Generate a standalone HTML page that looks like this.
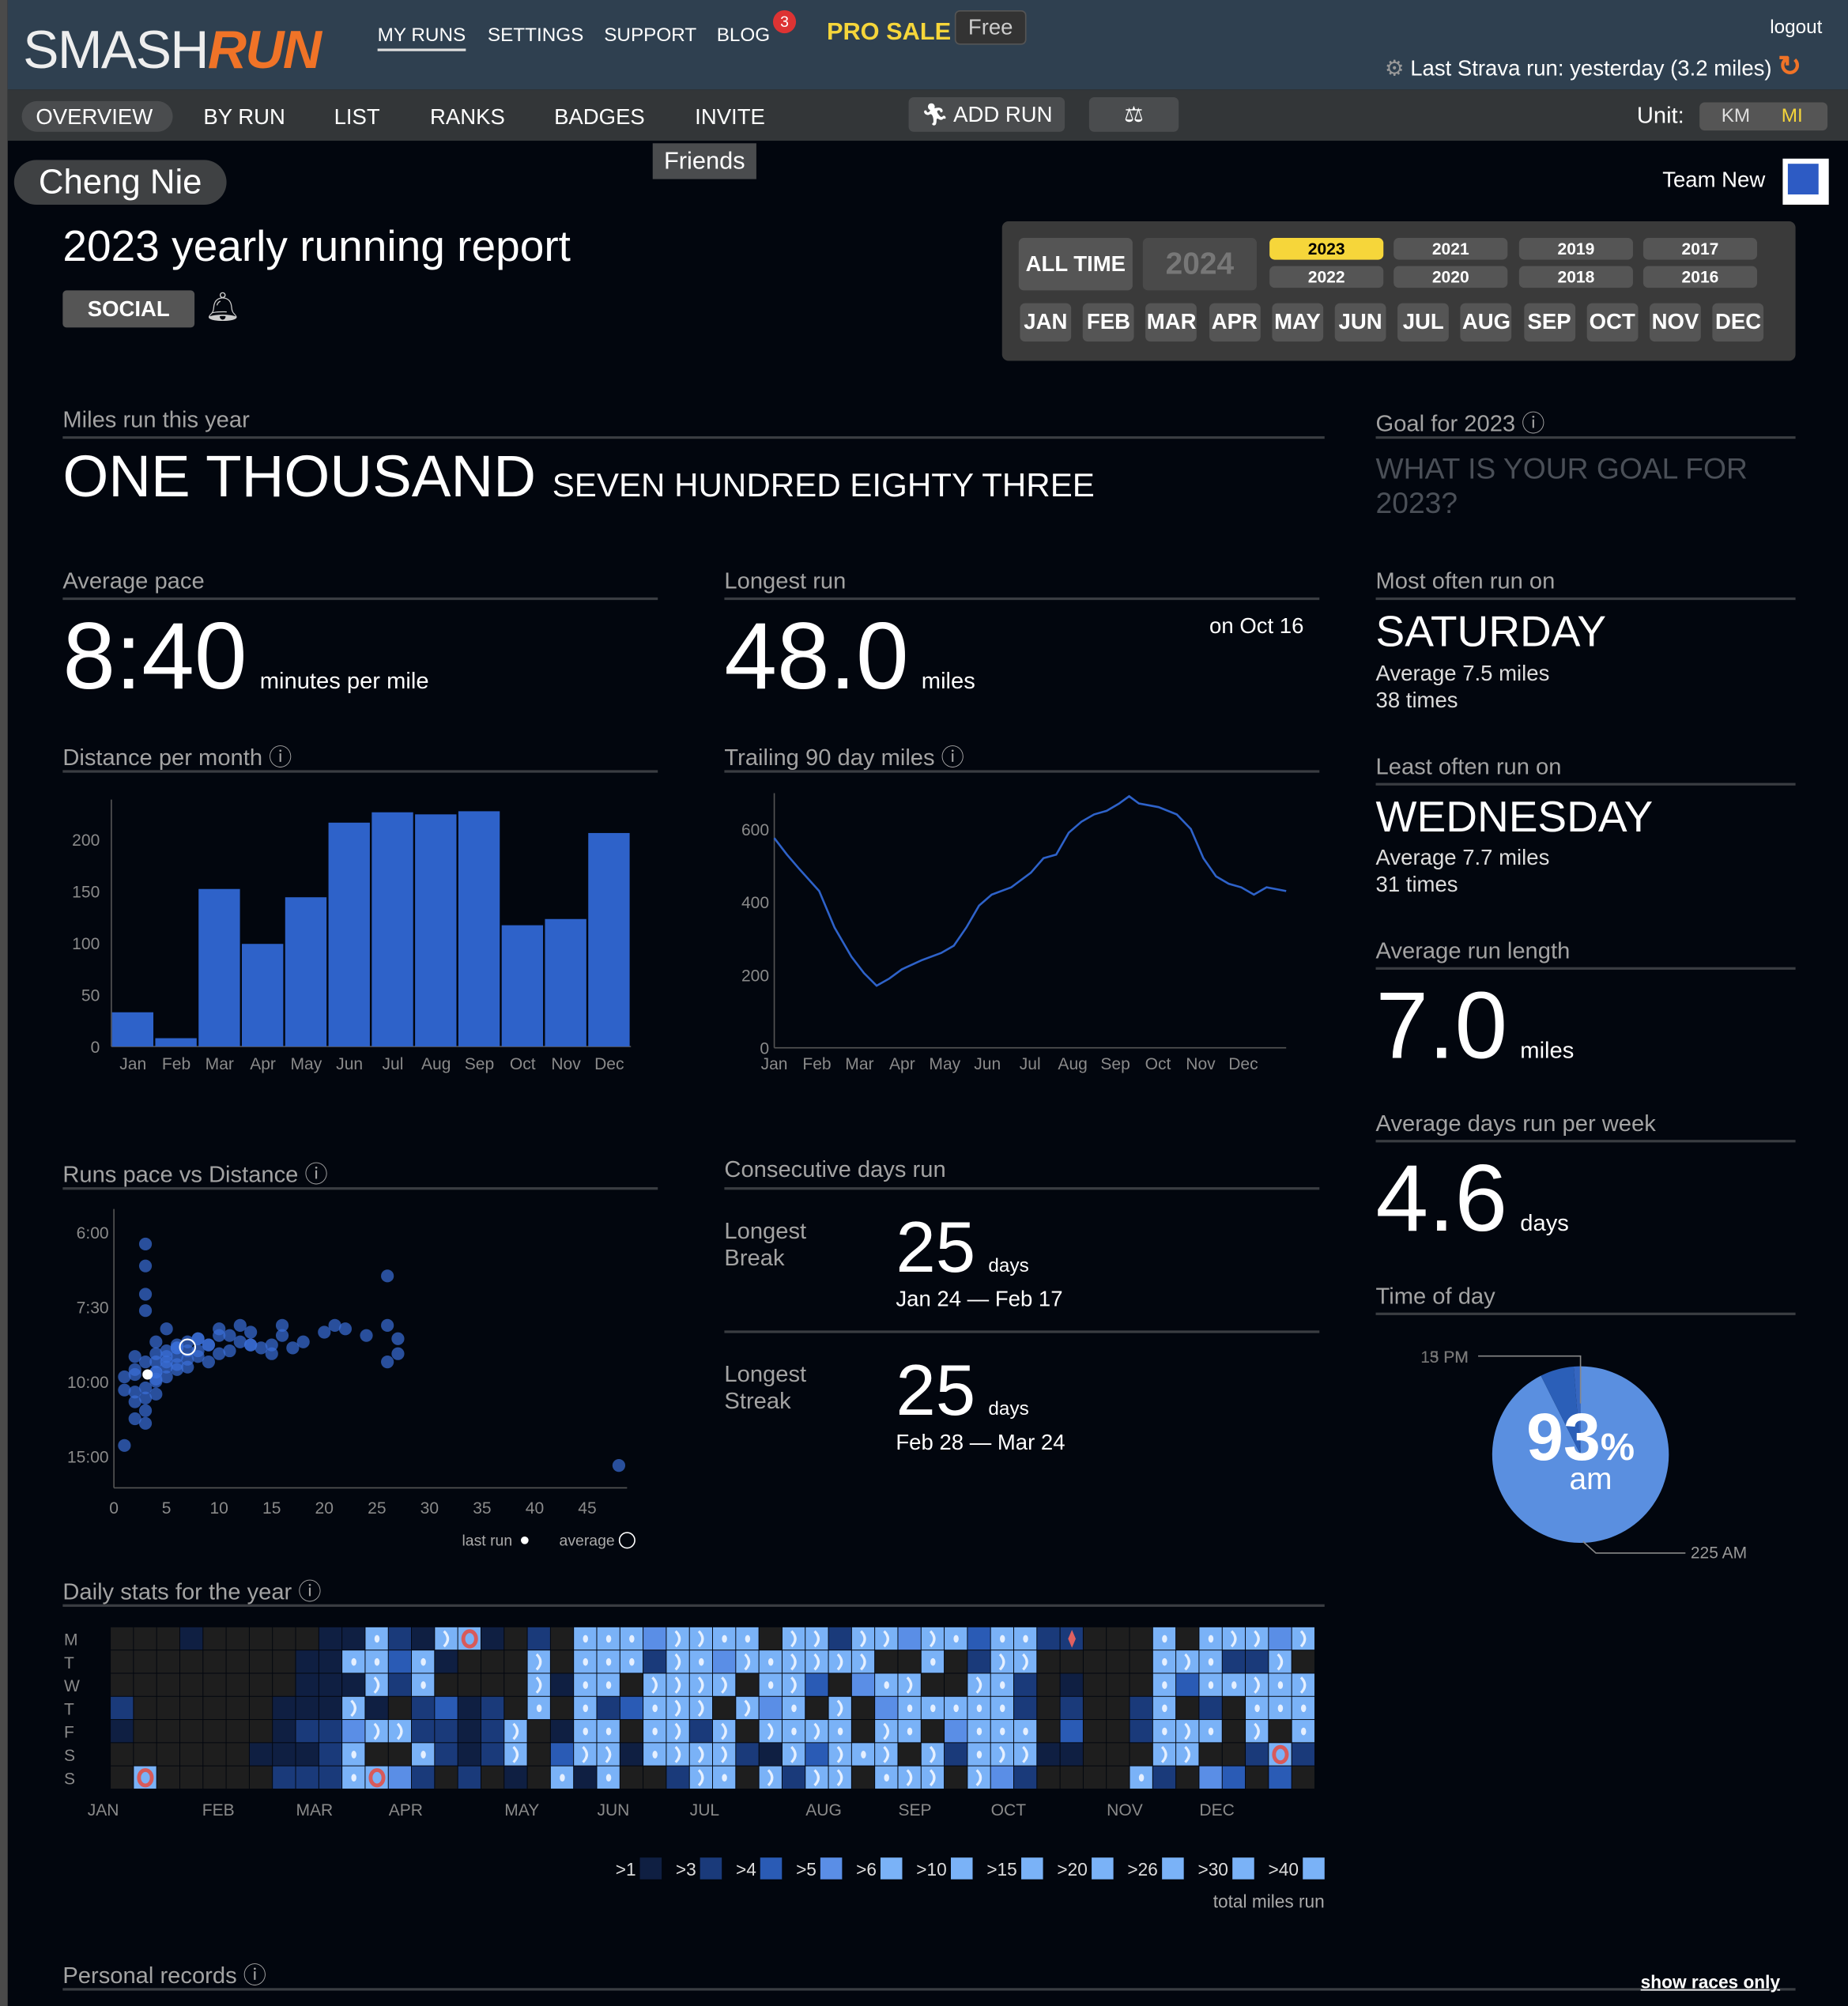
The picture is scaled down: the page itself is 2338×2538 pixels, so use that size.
<!DOCTYPE html>
<html><head><meta charset="utf-8"><style>
html,body{margin:0;padding:0;background:#02060e;width:2338px;height:2538px;overflow:hidden}
#wrap{position:absolute;left:0;top:0;width:1444px;height:1568px;transform:scale(1.6191,1.6186);transform-origin:0 0;font-family:"Liberation Sans",sans-serif;color:#fff;background:#02060e}
.a{position:absolute;white-space:nowrap}
.t{color:#a3a3a3;font-size:18px}
.hr{position:absolute;height:2px;background:#3a3d42}
.nav{font-size:15px;color:#fff}
.nav2{font-size:18px;color:#fff}
.yb{position:absolute;height:17px;border-radius:4px;background:#555;color:#fff;font-size:13px;font-weight:bold;text-align:center;line-height:17px}
.mb{position:absolute;top:237px;height:30px;border-radius:4px;background:#555;color:#fff;font-size:17px;font-weight:bold;text-align:center;line-height:30px}
svg text{font-family:"Liberation Sans",sans-serif}
</style></head><body>
<div id="wrap">
<div class="a" style="left:0;top:0;width:6px;height:1568px;background:#4a4a4a"></div>
<div class="a" style="left:6px;top:0;width:1438px;height:70px;background:#2f4050"></div>
<div class="a" style="left:18px;top:15px;font-size:42px;letter-spacing:-1px;color:#eee">SMASH<b style="color:#f07327;font-style:italic">RUN</b></div>
<div class="a nav" style="left:295px;top:19px;border-bottom:2px solid #ddd;padding-bottom:2px">MY RUNS</div>
<div class="a nav" style="left:381px;top:19px">SETTINGS</div>
<div class="a nav" style="left:472px;top:19px">SUPPORT</div>
<div class="a nav" style="left:560px;top:19px">BLOG</div>
<div class="a" style="left:604px;top:8px;width:18px;height:18px;border-radius:9px;background:#d33;font-size:12px;text-align:center;line-height:18px">3</div>
<div class="a" style="left:646px;top:15px;font-size:19px;font-weight:bold;color:#f6d63a">PRO SALE</div>
<div class="a" style="left:746px;top:8px;width:54px;height:25px;border-radius:4px;background:#333;border:1px solid #555;color:#ccc;font-size:17px;text-align:center;line-height:25px">Free</div>
<div class="a" style="left:1383px;top:13px;font-size:15px">logout</div>
<div class="a" style="left:1082px;top:39px;font-size:17px"><span style="color:#999">⚙</span> Last Strava run: yesterday (3.2 miles) <b style="color:#f07327;font-size:22px">↻</b></div>
<div class="a" style="left:6px;top:70px;width:1438px;height:40px;background:#333638"></div>
<div class="a" style="left:17px;top:79px;width:118px;height:24px;border-radius:12px;background:#4a4c4e"></div>
<div class="a nav2" style="left:28px;top:82px;font-size:17px">OVERVIEW</div>
<div class="a nav2" style="left:159px;top:82px;font-size:17px">BY RUN</div>
<div class="a nav2" style="left:261px;top:82px;font-size:17px">LIST</div>
<div class="a nav2" style="left:336px;top:82px;font-size:17px">RANKS</div>
<div class="a nav2" style="left:433px;top:82px;font-size:17px">BADGES</div>
<div class="a nav2" style="left:543px;top:82px;font-size:17px">INVITE</div>
<div class="a" style="left:710px;top:76px;width:122px;height:27px;border-radius:4px;background:#4a4c4e;font-size:17px;line-height:27px;text-align:center">🏃︎ ADD RUN</div>
<div class="a" style="left:851px;top:76px;width:70px;height:27px;border-radius:4px;background:#4a4c4e;font-size:17px;line-height:27px;text-align:center">⚖</div>
<div class="a" style="left:1279px;top:80px;font-size:18px">Unit:</div>
<div class="a" style="left:1328px;top:80px;width:100px;height:22px;border-radius:4px;background:#555"></div>
<div class="a" style="left:1345px;top:82px;font-size:15px;color:#ddd">KM</div>
<div class="a" style="left:1392px;top:82px;font-size:15px;color:#f6d63a">MI</div>
<div class="a" style="left:510px;top:112px;width:81px;height:28px;background:#4a4c4e;font-size:19px;text-align:center;line-height:30px">Friends</div>
<div class="a" style="left:11px;top:125px;width:166px;height:35px;border-radius:18px;background:#3f4143;font-size:27px;text-align:center;line-height:35px">Cheng Nie</div>
<div class="a" style="left:1299px;top:131px;font-size:17px">Team New</div>
<div class="a" style="left:1393px;top:124px;width:36px;height:36px;background:#fff"><div style="margin:4px;width:24px;height:24px;background:#2d5bc4"></div></div>
<div class="a" style="left:49px;top:174px;font-size:34px">2023 yearly running report</div>
<div class="a" style="left:49px;top:227px;width:103px;height:29px;border-radius:3px;background:#555;font-size:17px;font-weight:bold;text-align:center;line-height:29px">SOCIAL</div>
<div class="a" style="left:160px;top:227px;font-size:22px;color:#ccc">🔔︎</div>

<div class="a" style="left:783px;top:173px;width:620px;height:109px;border-radius:5px;background:#3a3a3a"></div>
<div class="a" style="left:796px;top:186px;width:89px;height:41px;border-radius:4px;background:#555;font-size:17px;font-weight:bold;text-align:center;line-height:41px">ALL TIME</div>
<div class="a" style="left:893px;top:186px;width:89px;height:41px;border-radius:4px;background:#4a4a4a;color:#777;font-size:24px;font-weight:bold;text-align:center;line-height:41px">2024</div>
<div class="yb" style="left:992px;top:186px;width:89px;background:#f6d63a;color:#000">2023</div>
<div class="yb" style="left:992px;top:208px;width:89px">2022</div>
<div class="yb" style="left:1089px;top:186px;width:89px">2021</div>
<div class="yb" style="left:1089px;top:208px;width:89px">2020</div>
<div class="yb" style="left:1187px;top:186px;width:89px">2019</div>
<div class="yb" style="left:1187px;top:208px;width:89px">2018</div>
<div class="yb" style="left:1284px;top:186px;width:89px">2017</div>
<div class="yb" style="left:1284px;top:208px;width:89px">2016</div>
<div id="months"></div>

<div class="a t" style="left:49px;top:318px">Miles run this year</div>
<div class="hr" style="left:49px;top:341px;width:986px"></div>
<div class="a" style="left:49px;top:345px;font-size:46px">ONE THOUSAND <span style="font-size:26px">SEVEN HUNDRED EIGHTY THREE</span></div>
<div class="a t" style="left:1075px;top:317px">Goal for 2023 ⓘ</div>
<div class="hr" style="left:1075px;top:341px;width:328px"></div>
<div class="a" style="left:1075px;top:353px;font-size:23px;color:#4a4f57;line-height:27px">WHAT IS YOUR GOAL FOR<br>2023?</div>

<div class="a t" style="left:49px;top:444px">Average pace</div>
<div class="hr" style="left:49px;top:467px;width:465px"></div>
<div class="a" style="left:49px;top:470px;font-size:74px">8:40<span style="font-size:18px;margin-left:10px">minutes per mile</span></div>
<div class="a t" style="left:566px;top:444px">Longest run</div>
<div class="hr" style="left:566px;top:467px;width:465px"></div>
<div class="a" style="left:566px;top:470px;font-size:74px">48.0<span style="font-size:18px;margin-left:10px">miles</span></div>
<div class="a" style="left:945px;top:480px;font-size:17px">on Oct 16</div>

<div class="a t" style="left:1075px;top:444px">Most often run on</div>
<div class="hr" style="left:1075px;top:467px;width:328px"></div>
<div class="a" style="left:1075px;top:475px;font-size:34px">SATURDAY</div>
<div class="a" style="left:1075px;top:516px;font-size:17px;line-height:21px;color:#ddd">Average 7.5 miles<br>38 times</div>
<div class="a t" style="left:1075px;top:589px">Least often run on</div>
<div class="hr" style="left:1075px;top:612px;width:328px"></div>
<div class="a" style="left:1075px;top:620px;font-size:34px">WEDNESDAY</div>
<div class="a" style="left:1075px;top:660px;font-size:17px;line-height:21px;color:#ddd">Average 7.7 miles<br>31 times</div>
<div class="a t" style="left:1075px;top:733px">Average run length</div>
<div class="hr" style="left:1075px;top:756px;width:328px"></div>
<div class="a" style="left:1075px;top:759px;font-size:74px">7.0<span style="font-size:18px;margin-left:10px">miles</span></div>
<div class="a t" style="left:1075px;top:868px">Average days run per week</div>
<div class="hr" style="left:1075px;top:891px;width:328px"></div>
<div class="a" style="left:1075px;top:894px;font-size:74px">4.6<span style="font-size:18px;margin-left:10px">days</span></div>
<div class="a t" style="left:1075px;top:1003px">Time of day</div>
<div class="hr" style="left:1075px;top:1026px;width:328px"></div>

<div class="a t" style="left:49px;top:578px">Distance per month ⓘ</div>
<div class="hr" style="left:49px;top:602px;width:465px"></div>
<div class="a t" style="left:566px;top:578px">Trailing 90 day miles ⓘ</div>
<div class="hr" style="left:566px;top:602px;width:465px"></div>
<div class="a t" style="left:49px;top:904px">Runs pace vs Distance ⓘ</div>
<div class="hr" style="left:49px;top:928px;width:465px"></div>
<div class="a t" style="left:566px;top:904px">Consecutive days run</div>
<div class="hr" style="left:566px;top:928px;width:465px"></div>
<div class="a t" style="left:566px;top:952px;line-height:21px">Longest<br>Break</div>
<div class="a" style="left:700px;top:942px;font-size:56px">25<span style="font-size:15px;margin-left:10px">days</span></div>
<div class="a" style="left:700px;top:1006px;font-size:17px">Jan 24 — Feb 17</div>
<div class="hr" style="left:566px;top:1040px;width:465px"></div>
<div class="a t" style="left:566px;top:1064px;line-height:21px">Longest<br>Streak</div>
<div class="a" style="left:700px;top:1054px;font-size:56px">25<span style="font-size:15px;margin-left:10px">days</span></div>
<div class="a" style="left:700px;top:1118px;font-size:17px">Feb 28 — Mar 24</div>
<div class="a t" style="left:49px;top:1230px">Daily stats for the year ⓘ</div>
<div class="hr" style="left:49px;top:1254px;width:986px"></div>
<div class="a t" style="left:49px;top:1530px">Personal records ⓘ</div>
<div class="hr" style="left:49px;top:1554px;width:1354px"></div>
<div class="a" style="left:1282px;top:1541px;font-size:14px;font-weight:bold;text-decoration:underline">show races only</div>

<svg class="a" style="left:0;top:0" width="1444" height="1568" id="charts"></svg>
</div>
<script>
// ---- data ----
const monthsShort=["Jan","Feb","Mar","Apr","May","Jun","Jul","Aug","Sep","Oct","Nov","Dec"];
const monthlyMiles=[33,8,152,99,144,216,226,224,227,117,123,206];
const barTicks=[0,50,100,150,200];
const trailDays=[0,9,18,32,43,55,64,73,82,91,105,119,128,137,146,155,169,183,192,201,210,219,228,237,246,253,260,274,287,297,306,315,324,333,342,351,365];
const trailMiles=[575,530,490,430,330,250,205,170,190,215,240,260,280,330,390,420,440,480,520,530,590,620,640,650,670,690,670,660,640,600,520,470,450,440,420,440,430];
const trailTicks=[0,200,400,600];
const scatterDist=[3,3,2,4,5,6,7,8,9,10,11,12,3,4,5,6,7,8,4,5,6,3,2,2,4,6,8,10,12,13,14,15,16,17,18,20,21,22,4,5,7,9,13,16,24,26,27,26,27,26,3,2,1,1,3,4,6,5,2,3,4,8,9,10,3,4,5,6,7,1,2,3,15,13,11,48];
const scatterPace=[6.2,6.6,9.7,9.2,8.8,8.6,8.5,8.4,8.6,8.1,8.3,8.0,10.3,9.9,9.4,9.0,8.8,8.4,8.9,9.0,8.7,7.6,9.5,10.5,10.0,9.3,9.0,8.9,8.5,8.2,8.7,8.6,8.3,8.7,8.5,8.2,8.0,8.1,9.6,9.8,9.4,9.2,8.6,8.0,8.3,8.0,8.4,6.8,8.9,9.2,10.8,11.0,10.4,9.8,11.5,10.6,9.5,9.2,9.0,9.2,9.6,8.8,8.6,8.3,7.2,8.5,8.1,8.7,9.1,14.0,12.0,12.3,8.9,8.6,8.8,16.0];
const scatterXTicks=[0,5,10,15,20,25,30,35,40,45];
const scatterYTicks=["6:00","7:30","10:00","15:00"];
const scatterYTickPace=[6,7.5,10,15];
const lastRun=[3.2,9.7];
const avgRun=[7.0,8.67];
const heatRows=["0001000001"+"15216R1020"+"5554665506"+"6266465355"+"2D00050566"+"46",
"0000000011"+"5535100060"+"5552654656"+"6660050266"+"0000056522"+"60",
"0000000011"+"1625000061"+"5506666056"+"3045600652"+"0100053556"+"56",
"2000000111"+"6102312050"+"5235660645"+"0604555552"+"0200250205"+"55",
"1000000122"+"4662212601"+"5505626065"+"6506504555"+"0300256506"+"05",
"0000001112"+"5005212603"+"6615666216"+"3656062566"+"1100066002"+"R2",
"0R00000222"+"5R42020105"+"1500265062"+"6605660642"+"0000520430"+"30"];
const dayLabels=["M","T","W","T","F","S","S"];
const heatMonths=["JAN","FEB","MAR","APR","MAY","JUN","JUL","AUG","SEP","OCT","NOV","DEC"];
const heatMonthWeek=[-1,3.95,8,12,17,21,25,30,34,38,43,47];
const legendLabels=[">1",">3",">4",">5",">6",">10",">15",">20",">26",">30",">40"];
const pieValues=[225,15,3];
const pieLabels=["225 AM","15 PM","3 PM"];
const monthBtns=["JAN","FEB","MAR","APR","MAY","JUN","JUL","AUG","SEP","OCT","NOV","DEC"];

const NS="http://www.w3.org/2000/svg";
const svg=document.getElementById('charts');
function el(tag,attrs,parent,txt){const e=document.createElementNS(NS,tag);for(const k in attrs)e.setAttribute(k,attrs[k]);if(txt!==undefined)e.textContent=txt;(parent||svg).appendChild(e);return e;}

// month buttons
const mwrap=document.getElementById('months');
monthBtns.forEach((m,i)=>{const d=document.createElement('div');d.className='mb';d.style.left=(797+i*49.2)+'px';d.style.width='40px';d.textContent=m;


mwrap.appendChild(d);});

// ---- bar chart ----
(function(){
const g=el('g',{});


const x0=87,x1=493,y0=818,k=0.81;const bw=(x1-x0)/12;
const y=v=>y0-v*k;
el('line',{x1:x0,y1:625,x2:x0,y2:y0,stroke:'#555'},g);
el('line',{x1:x0,y1:y0,x2:x1,y2:y0,stroke:'#555'},g);
barTicks.forEach(t=>{const tx=el('text',{x:x0-9,y:y(t)+5,'text-anchor':'end','font-size':13,fill:'#8a8a8a'},g,t);

});
monthlyMiles.forEach((v,i)=>{const r=el('rect',{x:x0+i*bw+0.5,y:y(v),width:bw-1.5,height:v*k,fill:'#2e62c9'},g);


const tx=el('text',{x:x0+i*bw+bw/2,y:y0+18,'text-anchor':'middle','font-size':13,fill:'#8a8a8a'},g,monthsShort[i]);

});
})();

// ---- trailing line ----
(function(){
const g=el('g',{});


const x0=605,x1=1005,y0=819,k=0.285;
const x=d=>x0+d/365*(x1-x0),y=v=>y0-v*k;
el('line',{x1:x0,y1:620,x2:x0,y2:y0,stroke:'#555'},g);
el('line',{x1:x0,y1:y0,x2:x1,y2:y0,stroke:'#555'},g);
trailTicks.forEach(t=>{const tx=el('text',{x:x0-4,y:y(t)+5,'text-anchor':'end','font-size':13,fill:'#8a8a8a'},g,t);

});
monthsShort.forEach((m,i)=>{const tx=el('text',{x:x(i*30.4),y:y0+17,'text-anchor':'middle','font-size':13,fill:'#8a8a8a'},g,m);

});
const p=el('path',{d:trailDays.map((d,i)=>(i?'L':'M')+x(d).toFixed(1)+' '+y(trailMiles[i]).toFixed(1)).join(''),fill:'none',stroke:'#2e62c9','stroke-width':1.6},g);


})();

// ---- scatter ----
(function(){
const g=el('g',{});


const x0=89,y0=1163,k=8.22;
const x=d=>x0+d*k,y=p=>963+(10-60/p)*29.2;
el('line',{x1:x0,y1:945,x2:x0,y2:y0,stroke:'#555'},g);
el('line',{x1:x0,y1:y0,x2:490,y2:y0,stroke:'#555'},g);
scatterYTicks.forEach((t,i)=>{const tx=el('text',{x:x0-4,y:y(scatterYTickPace[i])+5,'text-anchor':'end','font-size':13,fill:'#8a8a8a'},g,t);

});
scatterXTicks.forEach(t=>{const tx=el('text',{x:x(t),y:y0+20,'text-anchor':'middle','font-size':13,fill:'#8a8a8a'},g,t);

});
scatterDist.forEach((d,i)=>{const c=el('circle',{cx:x(d),cy:y(scatterPace[i]),r:5,fill:'#3a6fd8','fill-opacity':0.7},g);

});
const lr=el('circle',{cx:x(lastRun[0]),cy:y(lastRun[1]),r:4,fill:'#fff'},g);


const av=el('circle',{cx:x(avgRun[0]),cy:y(avgRun[1]),r:6,fill:'none',stroke:'#fff','stroke-width':1.3},g);


const t1=el('text',{x:361,y:1208,'font-size':12,fill:'#aaa'},g,'last run');


el('circle',{cx:410,cy:1204,r:3,fill:'#fff'},g);
const t2=el('text',{x:437,y:1208,'font-size':12,fill:'#aaa'},g,'average');


el('circle',{cx:490,cy:1204,r:6,fill:'none',stroke:'#fff'},g);
})();

// ---- heatmap ----
(function(){
const g=el('g',{});


const x0=86.5,y0=1272,cw=18.1,ch=18.1;
const col={'0':'#1e1e1e','1':'#0f1f42','2':'#1a3a7a','3':'#2a5bb5','4':'#5a8ee6','5':'#7ab2f7','6':'#7ab2f7','R':'#7ab2f7','D':'#1a3a7a'};
dayLabels.forEach((l,r)=>{const tx=el('text',{x:50,y:y0+r*ch+14,'font-size':13,fill:'#8a8a8a'},g,l);

});
heatRows.forEach((row,r)=>{[...row].forEach((c,w)=>{
const cx=x0+w*cw,cy=y0+r*ch;
const rc=el('rect',{x:cx,y:cy,width:cw-0.6,height:ch-0.6,fill:col[c]},g);


if(c==='5')el('ellipse',{cx:cx+9,cy:cy+9,rx:2,ry:3,fill:'#e6f0ff'},g);
if(c==='6')el('path',{d:`M${cx+7} ${cy+3}q6 6 0 12`,stroke:'#e6f0ff','stroke-width':2,fill:'none'},g);
if(c==='R')el('ellipse',{cx:cx+9,cy:cy+9,rx:5,ry:6,fill:'none',stroke:'#d85a5a','stroke-width':3},g);
if(c==='D')el('path',{d:`M${cx+9} ${cy+2}L${cx+12} ${cy+9}L${cx+9} ${cy+16}L${cx+6} ${cy+9}Z`,fill:'#e06060'},g);
});});
heatMonths.forEach((m,i)=>{const tx=el('text',{x:x0+heatMonthWeek[i]*cw,y:1419,'font-size':13,fill:'#8a8a8a'},g,m);

});
// legend
const lc=['#0f1f42','#1a3a7a','#2a5bb5','#5a8ee6','#7ab2f7','#7ab2f7','#7ab2f7','#7ab2f7','#7ab2f7','#7ab2f7','#7ab2f7'];
let lx=481;
legendLabels.forEach((l,i)=>{const tx=el('text',{x:lx,y:1466,'font-size':14,fill:'#ddd'},g,l);


const w=l.length*8+3;
el('rect',{x:lx+w,y:1452,width:17,height:17,fill:lc[i]},g);
lx+=w+28;});
const tl=el('text',{x:1035,y:1491,'font-size':14,fill:'#aaa','text-anchor':'end'},g,'total miles run');


})();

// ---- pie ----
(function(){
const g=el('g',{});


const cx=1235,cy=1137,r=69,tot=pieValues.reduce((a,b)=>a+b,0);
const cols=['#5a8fe0','#2b5fb8','#3566c0'];
let start=0;
[0,1,2].forEach(i=>{const frac=pieValues[i]/tot;const a0=start,a1=start+frac*2*Math.PI;start=a1;
const p0=[cx+r*Math.sin(a0),cy-r*Math.cos(a0)],p1=[cx+r*Math.sin(a1),cy-r*Math.cos(a1)];
const s=el('path',{d:`M${cx} ${cy}L${p0[0]} ${p0[1]}A${r} ${r} 0 ${frac>0.5?1:0} 1 ${p1[0]} ${p1[1]}Z`,fill:cols[i]},g);

});
el('polyline',{points:`${cx+2} ${cy+68} ${cx+12} ${cy+77} 1317 1214`,fill:'none',stroke:'#888'},g);
el('polyline',{points:`${cx} ${cy-40} ${cx} 1060 1155 1060`,fill:'none',stroke:'#888'},g);
const l1=el('text',{x:1321,y:1218,'font-size':13,fill:'#999'},g,pieLabels[0]);


const l2=el('text',{x:1110,y:1065,'font-size':13,fill:'#777'},g,pieLabels[1]);


const l3=el('text',{x:1117,y:1065,'font-size':13,fill:'#777'},g,pieLabels[2]);


const big=el('text',{x:cx,y:cy+4,'font-size':52,'font-weight':'bold',fill:'#fff','text-anchor':'middle'},g);


big.innerHTML=Math.round(pieValues[0]/tot*100)+'<tspan font-size="30">%</tspan>';
const am=el('text',{x:cx+8,y:cy+27,'font-size':24,fill:'#fff','text-anchor':'middle'},g,'am');


})();
</script>
</body></html>
